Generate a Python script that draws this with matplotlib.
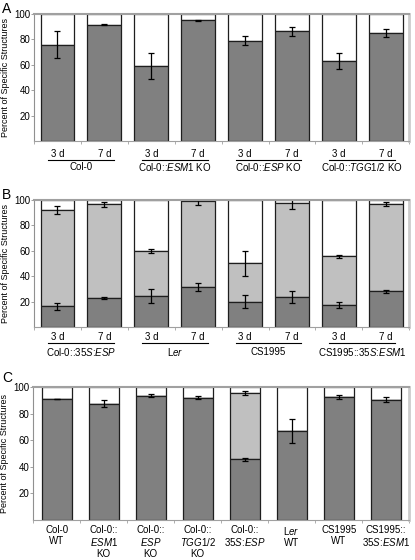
import matplotlib

matplotlib.use("Agg")
import matplotlib.pyplot as plt
import numpy as np

# panel A: Col-0 background lines, 3 d / 7 d
a_days = ["3 d", "7 d"] * 4
a_groups = ["Col-0", "Col-0::$\\mathit{ESM1}$ KO", "Col-0::$\\mathit{ESP}$ KO",
            "Col-0::$\\mathit{TGG1/2}$ KO"]
a_dark = [76, 91.5, 59, 95, 79, 86.5, 63, 85]
a_dark_err = [11, 0.5, 10.5, 0.4, 3.5, 3.5, 6.5, 3]

# panel B: dark = lower class, light top = cumulative upper boundary
b_days = ["3 d", "7 d"] * 4
b_groups = ["Col-0::35$\\mathit{S}$:$\\mathit{ESP}$", "L$\\mathit{er}$", "CS1995",
            "CS1995::35$\\mathit{S}$:$\\mathit{ESM1}$"]
b_dark = [16.5, 23, 24.5, 31.5, 20, 23.5, 17.5, 28]
b_dark_err = [2.8, 1, 5.2, 3.2, 5, 4.5, 2.5, 1.5]
b_light_top = [92, 96.5, 60, 98.8, 50, 97.5, 55.5, 96.5]
b_light_err = [3, 1.8, 1.7, 2.7, 9.5, 4.5, 1.5, 1.5]

# panel C: 7 d comparisons
c_labels = ["Col-0\nWT", "Col-0::\n$\\mathit{ESM1}$\nKO", "Col-0::\n$\\mathit{ESP}$\nKO",
            "Col-0::\n$\\mathit{TGG1/2}$\nKO", "Col-0::\n35$\\mathit{S}$:$\\mathit{ESP}$",
            "L$\\mathit{er}$\nWT", "CS1995\nWT", "CS1995::\n35$\\mathit{S}$:$\\mathit{ESM1}$"]
c_dark = [91, 87.5, 93.5, 92, 45.5, 66.5, 92.5, 90.5]
c_dark_err = [0.3, 2.5, 1, 1, 1.3, 9, 1.5, 2]
c_light_top = [np.nan, np.nan, np.nan, np.nan, 95.5, np.nan, np.nan, np.nan]
c_light_err = [np.nan, np.nan, np.nan, np.nan, 1.5, np.nan, np.nan, np.nan]

DARK = "#808080"
LIGHT = "#c0c0c0"
EDGE = "#1e1e1e"

plt.rcParams["font.family"] = ["Liberation Sans", "DejaVu Sans"]
plt.rcParams["font.size"] = 6.5
plt.rcParams["mathtext.fontset"] = "custom"
plt.rcParams["mathtext.rm"] = "Liberation Sans"
plt.rcParams["mathtext.it"] = "Liberation Sans:italic"


def base_axes(fig, rect, letter, letter_y):
    ax = fig.add_axes(rect)
    ax.set_xlim(-0.5, 7.5)
    ax.set_ylim(0, 100)
    ax.set_yticks([20, 40, 60, 80, 100])
    ax.set_ylabel("Percent of Specific Structures", labelpad=3)
    ax.spines["top"].set_color("#a0a0a0")
    ax.spines["top"].set_linewidth(1.5)
    ax.spines["right"].set_color("#cccccc")
    ax.spines["right"].set_linewidth(2)
    ax.spines["left"].set_color("#909090")
    ax.spines["bottom"].set_color("#a0a0a0")
    ax.tick_params(axis="y", length=2, width=0.6, color="#909090", pad=0.8,
                   labelsize=7)
    ax.set_xticks(np.arange(-0.5, 8, 1), minor=True)
    ax.tick_params(axis="x", which="minor", length=2.5, width=0.6, color="#a0a0a0")
    fig.text(0.005, letter_y, letter, fontsize=10, va="top", ha="left")
    return ax


def stack(ax, dark, dark_err, width, light_top=None, light_err=None):
    x = np.arange(len(dark))
    dark = np.asarray(dark, float)
    top = dark.copy() if light_top is None else np.where(np.isnan(light_top), dark, light_top)
    ax.bar(x, 100 - top, bottom=top, width=width, color="white", edgecolor=EDGE, lw=0.9)
    if light_top is not None:
        ax.bar(x, top - dark, bottom=dark, width=width, color=LIGHT, edgecolor=EDGE,
               lw=0.9)
        ax.errorbar(x, light_top, yerr=light_err, fmt="none", ecolor="black",
                    elinewidth=0.9, capsize=2, capthick=0.9)
    ax.bar(x, dark, width=width, color=DARK, edgecolor=EDGE, lw=0.9)
    ax.errorbar(x, dark, yerr=dark_err, fmt="none", ecolor="black", elinewidth=0.9,
                capsize=2, capthick=0.9)


def day_labels(ax, days, groups, pad, line_y, text_y):
    ax.set_xticks(np.arange(8), days)
    ax.tick_params(axis="x", which="major", length=0, pad=pad, labelsize=7)
    tr = ax.get_xaxis_transform()
    for i, name in enumerate(groups):
        x0 = 2 * i
        ax.plot([x0 - 0.2, x0 + 1.2], [line_y, line_y], color="black", lw=0.8,
                transform=tr, clip_on=False)
        ax.text(x0 + 0.5, text_y, name, transform=tr, ha="center", va="center",
                fontsize=7)


fig = plt.figure(figsize=(4.15, 5.6), dpi=100)

ax_a = base_axes(fig, [0.082, 0.748, 0.904, 0.227], "A", 0.997)
stack(ax_a, a_dark, a_dark_err, 0.72)
day_labels(ax_a, a_days, a_groups, 6.0, -0.15, -0.205)

ax_b = base_axes(fig, [0.082, 0.416, 0.904, 0.227], "B", 0.665)
stack(ax_b, b_dark, b_dark_err, 0.72, b_light_top, b_light_err)
day_labels(ax_b, b_days, b_groups, 3.5, -0.126, -0.197)

ax_c = base_axes(fig, [0.080, 0.072, 0.906, 0.237], "C", 0.337)
stack(ax_c, c_dark, c_dark_err, 0.64, np.array(c_light_top), np.array(c_light_err))
ax_c.set_xticks(np.arange(8), c_labels)
ax_c.tick_params(axis="x", which="major", length=0, pad=4, labelsize=7)
for lab in ax_c.get_xticklabels():
    lab.set_linespacing(1.12)

fig.savefig("out.png", dpi=100)
